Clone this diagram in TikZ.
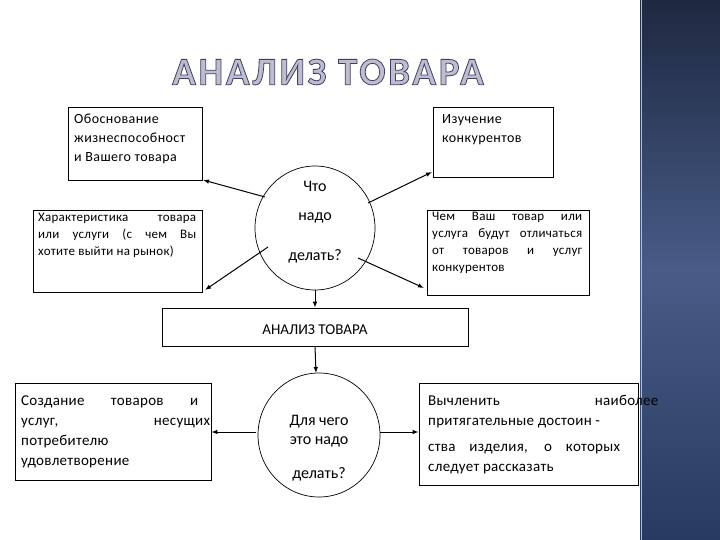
\documentclass[tikz,border=0pt]{standalone}
\usepackage{fontspec}
\setmainfont{Carlito}
\usetikzlibrary{arrows.meta}
\newcommand{\jl}[2]{\makebox[#1][s]{#2}}
\begin{document}
\begin{tikzpicture}[x=1pt,y=-1pt,
  box/.style={draw,line width=0.7pt,fill=white,inner sep=0pt},
  txt/.style={font=\fontsize{14}{19}\selectfont\addfontfeatures{LetterSpace=3},align=left,anchor=north west,inner sep=0pt},
  ctxt/.style={font=\fontsize{16}{18}\selectfont},
  arr/.style={-{Latex[length=6pt,width=4.5pt]},line width=1pt}]
\useasboundingbox (0,0) rectangle (720,540);
\fill[white] (0,0) rectangle (720,540);
\shade[top color={rgb,255:red,30;green,40;blue,64},bottom color={rgb,255:red,40;green,58;blue,95},middle color={rgb,255:red,72;green,92;blue,135}] (640,0) rectangle (720,540);
\draw[white!70!blue,line width=1pt] (641,0) -- (641,540);
% title
\node (title) at (328,72) {\fontsize{39}{39}\selectfont\bfseries\addfontfeatures{LetterSpace=7}\color{blue!15!gray!45}\special{pdf:literal direct 2 Tr 0.8 w 0.25 0.25 0.4 RG}АНАЛИЗ ТОВАРА\special{pdf:literal direct 0 Tr}};
% boxes
\node[box,minimum width=134pt,minimum height=73pt] (b1) at (135,143.5) {};
\node[txt] at (74,114) {Обоснование\\жизнеспособност\\и Вашего товара};
\node[box,minimum width=120pt,minimum height=70pt] (b2) at (493,142) {};
\node[txt] at (442,114) {Изучение\\конкурентов};
\node[box,minimum width=169pt,minimum height=82pt] (b3) at (117.5,251) {};
\node[txt,font=\fontsize{13}{17}\selectfont\addfontfeatures{LetterSpace=2}] at (38,213) {\jl{158pt}{Характеристика \ товара}\\\jl{158pt}{или услуги (с чем Вы}\\хотите выйти на рынок)};
\node[box,minimum width=162pt,minimum height=85pt] (b4) at (508,252.5) {};
\node[txt,font=\fontsize{13}{17}\selectfont\addfontfeatures{LetterSpace=2}] at (432,212) {\jl{150pt}{Чем Ваш товар или}\\\jl{150pt}{услуга будут отличаться}\\\jl{150pt}{от товаров и услуг}\\конкурентов};
\node[box,minimum width=306pt,minimum height=38pt] (b5) at (315,327) {};
\node[font=\fontsize{15}{17}\selectfont] at (315,330) {АНАЛИЗ ТОВАРА};
\node[box,minimum width=196pt,minimum height=97pt] (b6) at (113,431.5) {};
\node[txt,font=\fontsize{15}{20}\selectfont\addfontfeatures{LetterSpace=2}] at (21,396) {\jl{177pt}{Создание товаров и}\\\jl{177pt}{услуг, \hspace{6em} несущих}\\потребителю\\удовлетворение};
\node[box,minimum width=219pt,minimum height=102pt] (b7) at (528.5,434) {};
\node[txt,font=\fontsize{15}{20}\selectfont\addfontfeatures{LetterSpace=2}] at (428,395) {\jl{192pt}{Вычленить \hspace{6em} наиболее}\\притягательные достоин -\\[6pt]\jl{192pt}{ства изделия, о которых}\\следует рассказать};
% circles
\draw[line width=0.7pt,fill=white] (315,228) ellipse (60 and 62);
\node[ctxt] at (315,186) {Что};
\node[ctxt] at (315,218) {надо};
\node[ctxt] at (315,256) {делать?};
\draw[line width=0.7pt,fill=white] (319,435) ellipse (61 and 62);
\node[ctxt] at (319,422) {Для чего};
\node[ctxt] at (319,442) {это надо};
\node[ctxt] at (319,474) {делать?};
% arrows
\coordinate (a1) at (265,197); \coordinate (a1e) at (203,180);
\coordinate (a2) at (368,203); \coordinate (a2e) at (432,172);
\coordinate (a3) at (268,247); \coordinate (a3e) at (205,290);
\coordinate (a4) at (358,258); \coordinate (a4e) at (424,288);
\draw[arr] (a1) -- (a1e);
\draw[arr] (a2) -- (a2e);
\draw[arr] (a3) -- (a3e);
\draw[arr] (a4) -- (a4e);
\draw[arr] (315,290) -- (b5.north);
\draw[arr] (b5.south) -- (316,373);
\draw[arr] (256,432) -- (b6.east|-0,432);
\draw[arr] (380,432) -- (b7.west|-0,432);
\end{tikzpicture}
\end{document}
